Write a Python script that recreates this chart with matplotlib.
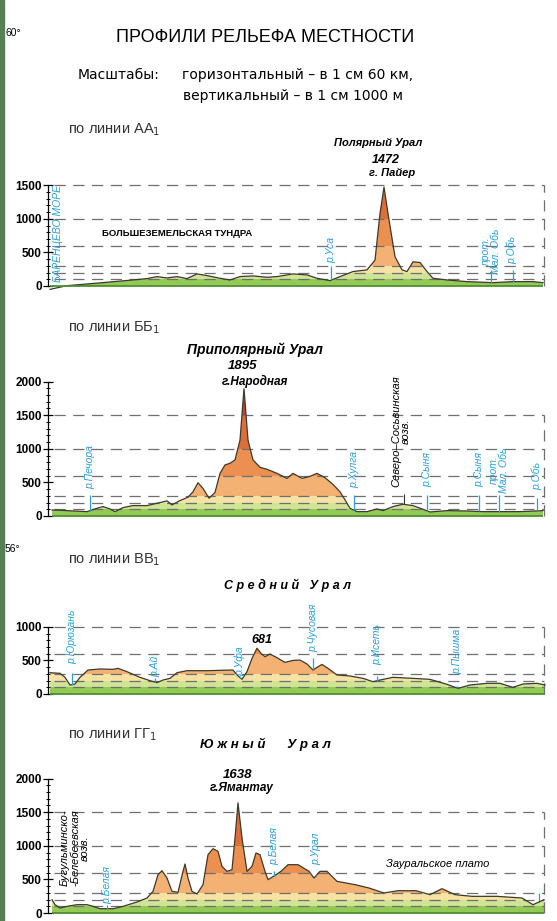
import matplotlib
matplotlib.use('Agg')
import matplotlib.pyplot as plt
import numpy as np
from matplotlib.patches import Polygon, Rectangle

# distance along the line (km) and height (m) for each profile
aa_km = [4, 38, 78, 124, 170, 198, 218, 238, 258, 278, 298, 318, 344, 364, 384, 410, 438, 458, 490, 518,
         538, 564, 584, 610, 638, 654, 664, 672, 680, 694, 708, 718, 730, 744, 758, 770, 798, 838, 890, 930,
         970, 990]
aa_m = [-50, 5, 30, 60, 90, 110, 140, 120, 140, 110, 180, 155, 115, 90, 140, 150, 130, 140, 180, 165,
        115, 80, 140, 215, 240, 385, 1080, 1472, 1080, 435, 240, 215, 360, 350, 215, 115, 90, 65, 50, 65,
        65, 50]

bb_km = [8, 38, 78, 98, 110, 124, 134, 150, 170, 198, 224, 238, 248, 264, 280, 290, 300, 310, 322, 334,
         344, 354, 364, 374, 384, 392, 400, 410, 424, 438, 458, 478, 490, 508, 524, 538, 554, 570, 584, 594,
         604, 618, 638, 658, 670, 690, 710, 730, 750, 764, 798, 838, 870, 904, 944, 990]
bb_m = [90, 80, 65, 115, 140, 105, 65, 125, 155, 155, 200, 225, 165, 230, 280, 360, 495, 410, 265, 350,
        635, 760, 785, 835, 1130, 1895, 1130, 835, 725, 695, 635, 560, 635, 560, 590, 635, 570, 470, 360, 240,
        115, 65, 65, 105, 80, 140, 175, 155, 100, 60, 80, 75, 65, 65, 65, 80]

vv_km = [4, 24, 34, 44, 54, 64, 80, 104, 130, 140, 158, 184, 204, 218, 230, 244, 258, 278, 318, 370,
         378, 388, 398, 408, 418, 426, 434, 444, 458, 474, 490, 504, 518, 530, 540, 548, 560, 578, 604, 630,
         650, 664, 690, 730, 764, 798, 820, 844, 878, 904, 930, 950, 978, 994]
vv_m = [317, 308, 248, 134, 149, 248, 357, 372, 367, 382, 332, 248, 198, 169, 208, 233, 317, 347, 347, 357,
        283, 218, 332, 530, 681, 605, 555, 595, 540, 470, 500, 505, 446, 357, 406, 440, 382, 283, 268, 233,
        183, 208, 248, 233, 218, 144, 84, 134, 159, 159, 99, 149, 159, 134]

gg_km = [8, 14, 24, 38, 58, 78, 90, 104, 130, 150, 178, 198, 210, 220, 228, 238, 248, 260, 270, 274,
         280, 288, 298, 310, 320, 330, 340, 348, 358, 368, 374, 380, 388, 398, 408, 416, 424, 434, 440, 454,
         466, 480, 500, 522, 532, 544, 558, 578, 614, 642, 672, 700, 736, 764, 788, 814, 848, 898, 948, 970,
         992]
gg_m = [198, 124, 74, 99, 124, 124, 99, 64, 64, 99, 164, 223, 322, 570, 630, 521, 322, 308, 620, 729,
        521, 322, 283, 422, 868, 957, 918, 694, 620, 645, 1116, 1638, 1116, 620, 694, 893, 868, 620, 496, 560,
        620, 719, 719, 620, 521, 620, 620, 471, 422, 372, 298, 332, 332, 273, 362, 273, 248, 248, 223, 124,
        198]

# hypsometric layers
levels = [0, 100, 200, 300, 600, 1000, 1500, 2600]
level_colors = ['#93c955', '#cfe495', '#f6e3a4', '#f3b174', '#eb9050', '#de6e38', '#c63f2b']
dash_levels = [100, 200, 300, 600, 1000, 1500]

W, H = 557, 921
K = 0.0672  # pixels per metre
NARROW = ['Liberation Sans', 'DejaVu Sans']
BLUE = '#2d9fd3'

fig = plt.figure(figsize=(W / 100, H / 100), dpi=100)
fig.patches.append(Rectangle((0, 0), 4 / W, 1, transform=fig.transFigure, color='#557f55', zorder=0))


def ftext(px, py, s, **kw):
    fig.text(px / W, 1 - py / H, s, **kw)


def make_axes(y0, ytop):
    ybot = -80
    b = y0 - ybot * K
    t = y0 - ytop * K
    ax = fig.add_axes([48 / W, 1 - b / H, 500 / W, (b - t) / H])
    ax.set_xlim(0, 1000)
    ax.set_ylim(ybot, ytop)
    ax.patch.set_alpha(0)
    return ax


def profile(ax, km, m, top_tick, top_dash):
    km = np.asarray(km, float)
    m = np.asarray(m, float)
    clip = Polygon(np.column_stack([np.r_[km[0], km, km[-1]], np.r_[0, m, 0]]),
                   closed=True, transform=ax.transData)
    for lo, hi, c in zip(levels[:-1], levels[1:], level_colors):
        span = ax.axhspan(lo, hi, color=c, lw=0, zorder=1)
        span.set_clip_path(clip)
    ax.hlines([v for v in dash_levels if v <= top_dash], 12, 992, colors='#6f6f6f',
              linestyles=(0, (9, 6)), lw=0.9, zorder=3)
    ax.vlines(992, 0, top_dash, colors='#6f6f6f', linestyles=(0, (9, 6)), lw=0.9, zorder=3)
    ax.plot(km, m, color='#3d3a2c', lw=0.9, zorder=4)
    ax.hlines(0, km[0], km[-1], color='#4f8f2f', lw=1.3, zorder=4)
    for s in ['top', 'right', 'bottom']:
        ax.spines[s].set_visible(False)
    ax.spines['left'].set_bounds(0, top_tick)
    ax.spines['left'].set_linewidth(0.9)
    ax.set_xticks([])
    ticks = np.arange(0, top_tick + 1, 500)
    ax.set_yticks(ticks, labels=[str(t) for t in ticks], fontweight='bold', fontfamily=NARROW)
    ax.set_yticks(np.arange(0, top_tick + 1, 100), minor=True)
    ax.tick_params(axis='y', which='major', direction='inout', length=7, width=0.9, labelsize=8.5, pad=1)
    ax.tick_params(axis='y', which='minor', direction='inout', length=3, width=0.7)
    return km, m


def river(ax, km, m, x, label, cy, line_top, size=7.5):
    ax.text(x, cy, label, rotation=90, ha='center', va='center', color=BLUE, fontsize=size,
            fontstyle='italic', fontfamily=NARROW, multialignment='center', linespacing=0.95, zorder=6)
    ax.vlines(x, np.interp(x, km, m), line_top, colors=BLUE, lw=0.9, zorder=6)


def peak_text(ax, x, y, s, size=8.5):
    ax.text(x, y, s, ha='center', va='center', fontsize=size, fontweight='bold', fontstyle='italic',
            fontfamily=NARROW, zorder=6)


# header
ftext(5, 33, '60°', fontsize=7.5, fontfamily=NARROW, va='center')
ftext(5, 549, '56°', fontsize=7.5, fontfamily=NARROW, va='center')
ftext(265, 38, 'ПРОФИЛИ РЕЛЬЕФА МЕСТНОСТИ', fontsize=13, fontfamily=NARROW, ha='center', va='center')
ftext(78, 75, 'Масштабы:', fontsize=10, fontfamily='DejaVu Sans', va='center')
ftext(182, 75, 'горизонтальный – в 1 см 60 км,', fontsize=10, fontfamily='DejaVu Sans', va='center')
ftext(183, 96, 'вертикальный – в 1 см 1000 м', fontsize=10, fontfamily='DejaVu Sans', va='center')

# по линии АА1
ftext(68, 130, 'по линии АА$_1$', fontsize=10.5, fontfamily=NARROW, va='center', color='#333333')
ax = make_axes(286, 1600)
km, m = profile(ax, aa_km, aa_m, 1500, 1500)
peak_text(ax, 660, 2128, 'Полярный Урал', 8)
peak_text(ax, 676, 1875, '1472', 9)
peak_text(ax, 688, 1682, 'г. Пайер', 8)
ax.text(258, 774, 'БОЛЬШЕЗЕМЕЛЬСКАЯ ТУНДРА', ha='center', va='center', fontsize=6.8,
        fontweight='bold', fontfamily=NARROW)
ax.text(20, 774, 'БАРЕНЦЕВО МОРЕ', rotation=90, ha='center', va='center', color=BLUE,
        fontsize=7.5, fontstyle='italic', fontfamily=NARROW)
river(ax, km, m, 566, 'р.Уса', 536, 300)
river(ax, km, m, 886, 'прот.\nМал. Обь', 520, 238)
river(ax, km, m, 929, 'р.Обь', 536, 238)

# по линии ББ1
ftext(68, 328, 'по линии ББ$_1$', fontsize=10.5, fontfamily=NARROW, va='center', color='#333333')
ax = make_axes(516, 2100)
km, m = profile(ax, bb_km, bb_m, 2000, 1500)
peak_text(ax, 414, 2470, 'Приполярный Урал', 10)
peak_text(ax, 390, 2232, '1895', 9.5)
peak_text(ax, 414, 2009, 'г.Народная', 8.5)
ax.text(706, 1265, 'Северо–Сосьвинская\nвозв.', rotation=90, ha='center', va='center', fontsize=8,
        fontstyle='italic', fontfamily=NARROW, multialignment='center', linespacing=1.0)
ax.vlines(712, np.interp(712, km, m), 330, colors='#333333', lw=0.8)
river(ax, km, m, 84, 'р.Печора', 730, 312)
river(ax, km, m, 612, 'р.Хулга', 685, 312)
river(ax, km, m, 758, 'р.Сыня', 685, 312)
river(ax, km, m, 862, 'р.Сыня', 685, 312)
river(ax, km, m, 902, 'прот.\nМал. Обь', 685, 312)
river(ax, km, m, 978, 'р.Обь', 595, 268)

# по линии ВВ1
ftext(68, 560, 'по линии ВВ$_1$', fontsize=10.5, fontfamily=NARROW, va='center', color='#333333')
ax = make_axes(694, 1100)
km, m = profile(ax, vv_km, vv_m, 1000, 1000)
peak_text(ax, 480, 1622, 'С р е д н и й   У р а л', 9)
peak_text(ax, 428, 804, '681', 9)
river(ax, km, m, 48, 'р.Юрюзань', 848, 312)
river(ax, km, m, 214, 'р.Ай', 417, 238)
river(ax, km, m, 384, 'р.Уфа', 491, 268)
river(ax, km, m, 530, 'р.Чусовая', 982, 536)
river(ax, km, m, 658, 'р.Исеть', 730, 268)
river(ax, km, m, 818, 'р.Пышма', 640, 119)

# по линии ГГ1
ftext(68, 735, 'по линии ГГ$_1$', fontsize=10.5, fontfamily=NARROW, va='center', color='#333333')
ax = make_axes(913, 2100)
km, m = profile(ax, gg_km, gg_m, 2000, 1500)
peak_text(ax, 434, 2509, 'Ю ж н ы й      У р а л', 9.5)
peak_text(ax, 380, 2054, '1638', 9.5)
peak_text(ax, 388, 1860, 'г.Ямантау', 8.5)
ax.text(54, 967, 'Бугульминско-\n-Белебеевская\nвозв.', rotation=90, ha='center', va='center',
        fontsize=8, fontstyle='italic', fontfamily=NARROW, multialignment='center', linespacing=1.0)
ax.text(780, 730, 'Зауральское плато', ha='center', va='center', fontsize=8, fontstyle='italic',
        fontfamily=NARROW)
river(ax, km, m, 118, 'р.Белая', 417, 119)
river(ax, km, m, 452, 'р.Белая', 997, 625)
river(ax, km, m, 536, 'р.Урал', 952, 565)
ax.vlines(982, np.interp(982, km, m), 300, colors=BLUE, lw=0.9)

fig.savefig('out.png', dpi=100)
